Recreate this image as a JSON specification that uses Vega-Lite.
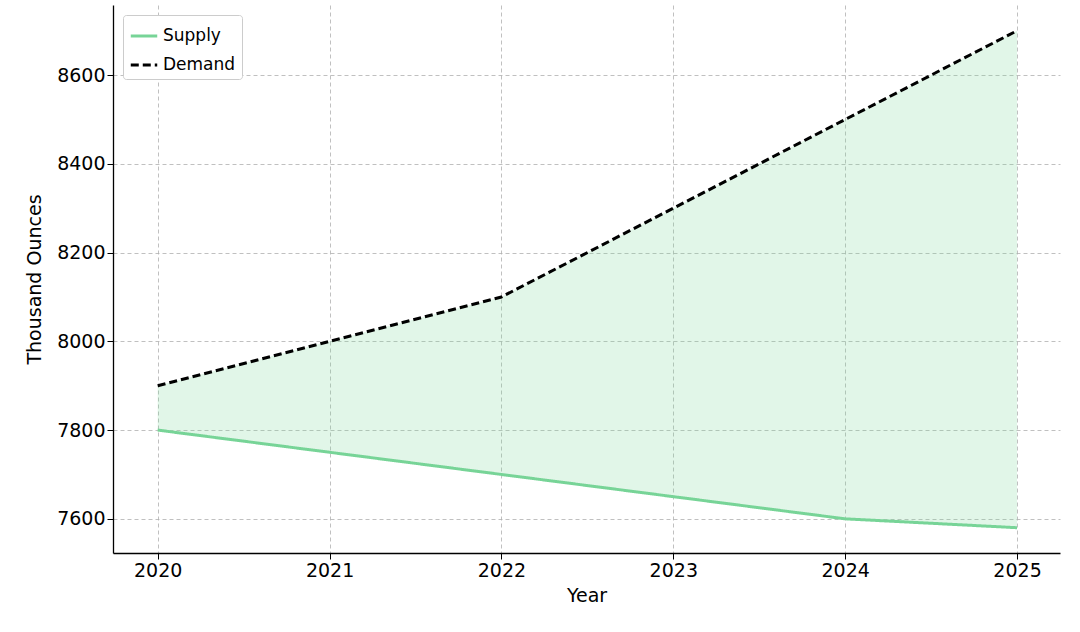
{
  "$schema": "https://vega.github.io/schema/vega-lite/v6.json",
  "width": 947,
  "height": 548,
  "autosize": "none",
  "padding": {"left": 113, "top": 5, "right": 20, "bottom": 79},
  "background": "white",
  "config": {
    "font": "DejaVu Sans",
    "view": {"stroke": null},
    "axis": {
      "domainColor": "black", "domainWidth": 1.3, "tickColor": "black", "tickSize": 6,
      "labelFontSize": 19, "labelColor": "black", "titleFontSize": 19, "titleFontWeight": "normal", "titleColor": "black",
      "gridColor": "#b0b0b0", "gridDash": [4, 3], "gridWidth": 0.8
    }
  },
  "data": {"values": [
    {"year": 2020, "Supply": 7800, "Demand": 7900},
    {"year": 2021, "Supply": 7750, "Demand": 8000},
    {"year": 2022, "Supply": 7700, "Demand": 8100},
    {"year": 2023, "Supply": 7650, "Demand": 8300},
    {"year": 2024, "Supply": 7600, "Demand": 8500},
    {"year": 2025, "Supply": 7580, "Demand": 8700}
  ]},
  "encoding": {
    "x": {"field": "year", "type": "quantitative", "title": "Year",
      "scale": {"domain": [2019.74, 2025.25], "nice": false, "zero": false},
      "axis": {"values": [2020, 2021, 2022, 2023, 2024, 2025], "format": "d", "titlePadding": 6}}
  },
  "layer": [
    {
      "mark": {"type": "area", "color": "#77d497", "opacity": 0.22},
      "encoding": {
        "y": {"field": "Supply", "type": "quantitative", "title": "Thousand Ounces",
          "scale": {"domain": [7523, 8758], "nice": false, "zero": false},
          "axis": {"values": [7600, 7800, 8000, 8200, 8400, 8600], "format": "d", "titlePadding": 12}},
        "y2": {"field": "Demand"}
      }
    },
    {
      "transform": [{"fold": ["Supply", "Demand"], "as": ["series", "value"]}],
      "mark": {"type": "line", "strokeWidth": 3},
      "encoding": {
        "y": {"field": "value", "type": "quantitative"},
        "color": {"field": "series", "type": "nominal",
          "scale": {"domain": ["Supply", "Demand"], "range": ["#77d497", "black"]},
          "legend": {"title": null, "orient": "top-left", "offset": 10, "labelFontSize": 17, "symbolType": "stroke",
            "symbolStrokeWidth": 3, "symbolSize": 700, "strokeColor": "#cccccc", "fillColor": "white", "padding": 6, "cornerRadius": 3, "rowPadding": 6}},
        "strokeDash": {"field": "series", "type": "nominal",
          "scale": {"domain": ["Supply", "Demand"], "range": [[1, 0], [8, 4]]}, "legend": null}
      }
    }
  ]
}
